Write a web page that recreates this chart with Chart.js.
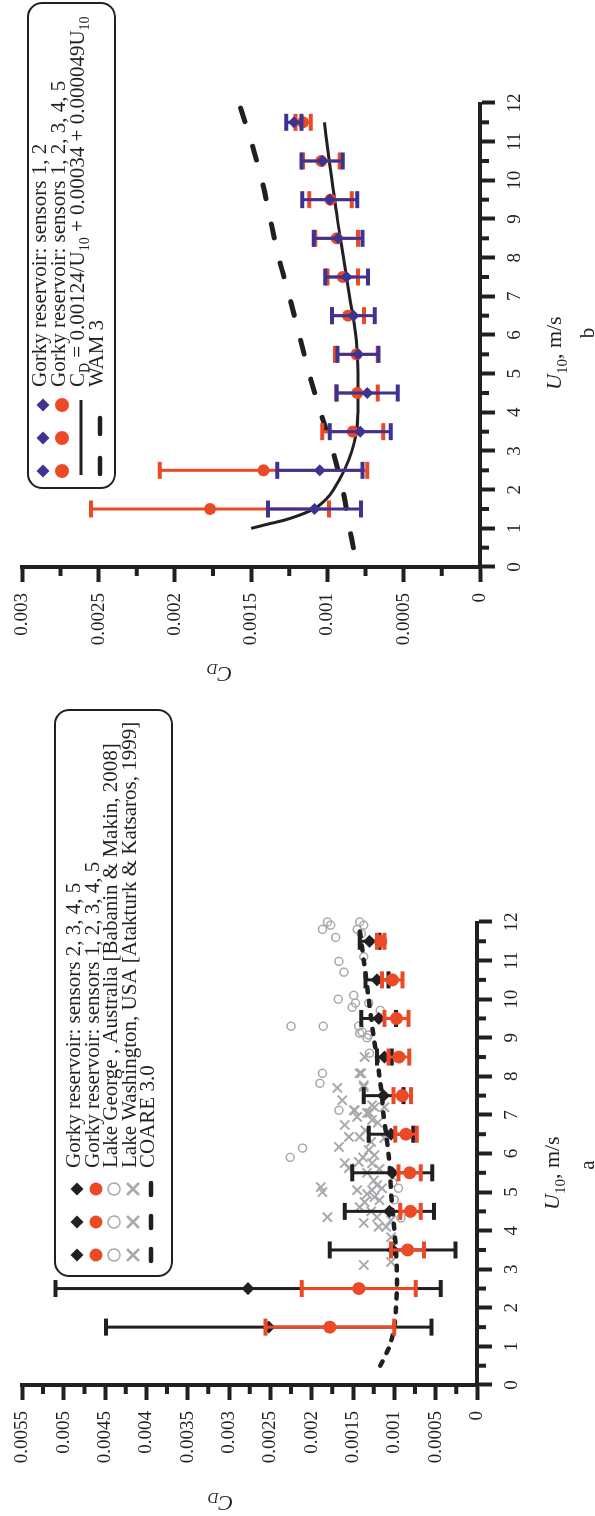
<!DOCTYPE html>
<html>
<head>
<meta charset="utf-8">
<script src="https://cdn.jsdelivr.net/npm/chart.js@4.4.1/dist/chart.umd.min.js"></script>
<style>
  html, body { margin: 0; padding: 0; background: #fff; }
  body { width: 595px; height: 1516px; overflow: hidden; position: relative; }
  /* the figure is laid out landscape and turned a quarter turn to the left */
  #figure { position: absolute; left: 0; top: 0; width: 1516px; height: 595px;
            transform-origin: 0 0; transform: translateY(1516px) rotate(-90deg); }
  #chartA { position: absolute; left: 0; top: 0; width: 816px; height: 595px; }
  #chartB { position: absolute; left: 816px; top: 0; width: 700px; height: 595px; }
</style>
</head>
<body>
<div id="figure">
  <canvas id="chartA" width="816" height="595"></canvas>
  <canvas id="chartB" width="700" height="595"></canvas>
</div>
<script>
// ---- data: panel a ----
const uBins = [1.5, 2.5, 3.5, 4.5, 5.5, 6.5, 7.5, 8.5, 9.5, 10.5, 11.5];

const gorky2345Cd  = [0.00252, 0.00277, 0.00102, 0.00106, 0.001025, 0.00104, 0.00113, 0.00112, 0.00119, 0.00121, 0.00130];
const gorky2345Err = [0.00197, 0.00233, 0.00076, 0.00054, 0.000485, 0.00027, 0.00024, 0.00009, 0.00021, 0.00014, 0.00012];

const gorky12345Cd  = [0.00178, 0.00143, 0.00084, 0.000805, 0.000815, 0.00086, 0.000905, 0.000945, 0.000975, 0.001025, 0.001165];
const gorky12345Err = [0.00078, 0.00069, 0.00020, 0.000125, 0.000135, 0.00013, 0.000105, 0.000125, 0.000145, 0.000125, 0.000045];

const lakeGeorgeU  = [12.0, 11.81, 11.92, 11.6, 12.0, 11.92, 11.81, 11.7, 11.1, 10.98, 10.7, 10.0, 10.1, 9.79, 9.9, 9.9,
                      9.3, 9.3, 9.3, 9.12, 9.07, 9.71, 9.15, 9.0, 8.6, 8.08, 7.82, 7.12, 6.14, 5.9, 5.1, 4.33, 4.8, 5.25];
const lakeGeorgeCd = [0.00181, 0.00187, 0.00177, 0.00171, 0.00142, 0.00137, 0.00145, 0.00140, 0.00137, 0.00167, 0.00161, 0.00168, 0.00149, 0.00151, 0.00147, 0.00131,
                      0.00225, 0.00186, 0.00143, 0.00142, 0.00131, 0.00117, 0.00139, 0.00133, 0.00130, 0.00187, 0.00190, 0.00167, 0.00211, 0.00226, 0.00095, 0.00092, 0.00100, 0.00102];

const lakeWashU  = [5.13, 5.0, 4.35, 6.17, 6.43, 6.74, 6.95, 7.12, 7.05, 7.2, 6.87, 6.43, 6.09, 5.96, 5.75, 5.62, 5.78, 5.75,
                    5.05, 5.05, 5.18, 5.1, 4.87, 4.74, 4.61, 4.79, 4.2, 4.1, 4.35, 4.1, 4.27, 3.83, 3.11, 3.19, 6.4, 7.2,
                    8.5, 8.08, 7.7, 7.38, 7.72, 7.12, 7.25, 7.05, 8.08, 7.77, 6.6, 6.3, 5.9, 5.5, 5.3, 4.95, 4.5, 6.8, 5.6];
const lakeWashCd = [0.00189, 0.00187, 0.00181, 0.00167, 0.00155, 0.00160, 0.00145, 0.00149, 0.00130, 0.00124, 0.00127, 0.00142, 0.00131, 0.00124, 0.00160, 0.00155, 0.00143, 0.00127,
                    0.00145, 0.00127, 0.00121, 0.00115, 0.00124, 0.00136, 0.00142, 0.00118, 0.00137, 0.00119, 0.00121, 0.00110, 0.00104, 0.00104, 0.00137, 0.00104, 0.00112, 0.00112,
                    0.00136, 0.00140, 0.00169, 0.00163, 0.00137, 0.00148, 0.00127, 0.00133, 0.00142, 0.00137, 0.00135, 0.00128, 0.00138, 0.00133, 0.00125, 0.00133, 0.00128, 0.00120, 0.00118];

const coareU  = [0.5, 1, 1.5, 2, 2.5, 3, 3.5, 4, 4.5, 5, 5.5, 6, 6.5, 7, 7.5, 8, 8.5, 9, 9.5, 10, 10.5, 11, 11.5, 11.8];
const coareCd = [0.00117, 0.00106, 0.00100, 0.00098, 0.00097, 0.00097, 0.00098, 0.00100, 0.00102, 0.00104, 0.00105, 0.00107,
                 0.00110, 0.00113, 0.00115, 0.00118, 0.00121, 0.00125, 0.00128, 0.00131, 0.00134, 0.00137, 0.00140, 0.00142];

// ---- data: panel b ----
const gorkyB12Cd  = [0.001085, 0.00105, 0.000785, 0.00074, 0.00080, 0.00083, 0.000875, 0.00093, 0.000985, 0.001035, 0.00122];
const gorkyB12Err = [0.000305, 0.00028, 0.00020, 0.00020, 0.000135, 0.00014, 0.00014, 0.00016, 0.00018, 0.000135, 0.00005];

const gorkyB12345Cd  = [0.00177, 0.00142, 0.000835, 0.000805, 0.00081, 0.000865, 0.0009, 0.00094, 0.00098, 0.00104, 0.00116];
const gorkyB12345Err = [0.00078, 0.00068, 0.00020, 0.000135, 0.00014, 0.000105, 0.0001, 0.00014, 0.00014, 0.00012, 0.00005];

const fitU  = [1.0, 1.1, 1.25, 1.5, 1.75, 2, 2.5, 3, 3.5, 4, 4.5, 5, 5.5, 6, 7, 8, 9, 10, 11, 11.5];
const fitCd = [0.00150, 0.00140, 0.00125, 0.00109, 0.00101, 0.00096, 0.00089, 0.00084, 0.00081, 0.00080, 0.00080, 0.00080,
               0.000805, 0.000815, 0.000855, 0.000895, 0.000935, 0.00097, 0.001005, 0.00102];

const wamU  = [0.5, 1, 2, 3, 4, 5, 6, 7, 8, 9, 10, 11, 12];
const wamCd = [0.00083, 0.000855, 0.00090, 0.000965, 0.001045, 0.00112, 0.001185, 0.00125, 0.00132, 0.001375, 0.00143, 0.00150, 0.00158];

const uTicks = [0, 1, 2, 3, 4, 5, 6, 7, 8, 9, 10, 11, 12];

const legendA = [
  'Gorky reservoir: sensors 2, 3, 4, 5',
  'Gorky reservoir: sensors 1, 2, 3, 4, 5',
  'Lake George , Australia [Babanin & Makin, 2008]',
  'Lake Washington, USA [Atakturk & Katsaros, 1999]',
  'COARE 3.0'
];
const legendB = [
  'Gorky reservoir: sensors 1, 2',
  'Gorky reservoir: sensors 1, 2, 3, 4, 5',
  'FORMULA',
  'WAM 3'
];

// ---- look ----
const INK = '#231f20';
const RED = '#ec4a26';
const BLUE = '#3d3393';
const GREY = '#a7a9ac';
const SERIF = '"Liberation Serif", "DejaVu Serif", serif';

const pts = (xs, ys) => xs.map((x, i) => ({ x: x, y: ys[i] }));
const fmtCd = v => (Math.abs(v) < 1e-9 ? '0' : String(parseFloat(v.toFixed(5))));

// error bars are drawn just before each dataset's own markers
const errorBars = {
  id: 'errorBars',
  beforeDatasetDraw(chart, args) {
    const ds = chart.data.datasets[args.index];
    if (!ds.errors) return;
    const xs = chart.scales.x, ys = chart.scales.y, ctx = chart.ctx;
    ctx.save();
    ctx.strokeStyle = ds.barColor;
    ds.data.forEach((p, i) => {
      const px = xs.getPixelForValue(p.x);
      const hi = ys.getPixelForValue(p.y + ds.errors[i]);
      const lo = ys.getPixelForValue(p.y - ds.errors[i]);
      ctx.lineWidth = 3;
      ctx.beginPath(); ctx.moveTo(px, hi); ctx.lineTo(px, lo); ctx.stroke();
      ctx.lineWidth = 4;
      ctx.beginPath();
      ctx.moveTo(px - 8.5, hi); ctx.lineTo(px + 8.5, hi);
      ctx.moveTo(px - 8.5, lo); ctx.lineTo(px + 8.5, lo);
      ctx.stroke();
    });
    ctx.restore();
  }
};

function drawSymbol(ctx, s, x, y) {
  ctx.save();
  ctx.fillStyle = s.color; ctx.strokeStyle = s.color;
  if (s.shape === 'diamond') {
    ctx.beginPath();
    ctx.moveTo(x - s.r, y); ctx.lineTo(x, y - s.r); ctx.lineTo(x + s.r, y); ctx.lineTo(x, y + s.r);
    ctx.closePath(); ctx.fill();
  } else if (s.shape === 'dot') {
    ctx.beginPath(); ctx.arc(x, y, s.r, 0, Math.PI * 2); ctx.fill();
  } else if (s.shape === 'ring') {
    ctx.lineWidth = 1.6;
    ctx.beginPath(); ctx.arc(x, y, s.r, 0, Math.PI * 2); ctx.stroke();
  } else if (s.shape === 'x') {
    ctx.lineWidth = 2.6;
    ctx.beginPath();
    ctx.moveTo(x - s.r, y - s.r); ctx.lineTo(x + s.r, y + s.r);
    ctx.moveTo(x - s.r, y + s.r); ctx.lineTo(x + s.r, y - s.r);
    ctx.stroke();
  } else if (s.shape === 'dash') {
    ctx.lineWidth = 4.5; ctx.lineCap = 'round';
    ctx.beginPath(); ctx.moveTo(x - s.r, y); ctx.lineTo(x + s.r, y); ctx.stroke();
  }
  ctx.restore();
}

// text made of runs: [text, style] where style is n, i, s (subscript) or is (italic subscript)
function drawRich(ctx, runs, x, y, size) {
  let cx = x;
  runs.forEach(([t, st]) => {
    const sub = st === 's' || st === 'is';
    const ital = st === 'i' || st === 'is';
    const fs = sub ? Math.round(size * 0.66) : size;
    ctx.font = (ital ? 'italic ' : '') + fs + 'px ' + SERIF;
    ctx.fillText(t, cx, sub ? y + size * 0.25 : y);
    cx += ctx.measureText(t).width;
  });
  return cx - x;
}

function roundBox(ctx, x0, y0, x1, y1, r) {
  ctx.save();
  ctx.strokeStyle = INK; ctx.lineWidth = 2;
  ctx.beginPath();
  ctx.moveTo(x0 + r, y0); ctx.lineTo(x1 - r, y0); ctx.arcTo(x1, y0, x1, y0 + r, r);
  ctx.lineTo(x1, y1 - r); ctx.arcTo(x1, y1, x1 - r, y1, r);
  ctx.lineTo(x0 + r, y1); ctx.arcTo(x0, y1, x0, y1 - r, r);
  ctx.lineTo(x0, y0 + r); ctx.arcTo(x0, y0, x0 + r, y0, r);
  ctx.stroke();
  ctx.restore();
}

function minorTicks(chart, cdStep) {
  const { ctx, chartArea: a, scales: { x, y } } = chart;
  ctx.save();
  ctx.strokeStyle = INK; ctx.lineWidth = 4;
  ctx.beginPath();
  for (let v = 0.5; v < x.max; v += 1) {
    const px = x.getPixelForValue(v);
    ctx.moveTo(px, a.bottom); ctx.lineTo(px, a.bottom + 9);
  }
  for (let v = cdStep / 2; v < y.max; v += cdStep) {
    const py = y.getPixelForValue(v);
    ctx.moveTo(a.left, py); ctx.lineTo(a.left - 9, py);
  }
  ctx.stroke();
  ctx.restore();
}

function axisTitles(ctx, ux, uy, letter, lx, ly, cdx, cdy) {
  ctx.save();
  ctx.fillStyle = INK; ctx.textAlign = 'left'; ctx.textBaseline = 'alphabetic';
  drawRich(ctx, [['U', 'i'], ['10', 's'], [', m/s', 'n']], ux, uy, 22);
  ctx.font = '21px ' + SERIF; ctx.textAlign = 'center';
  ctx.fillText(letter, lx, ly);
  ctx.translate(cdx, cdy); ctx.rotate(-Math.PI / 2);
  ctx.textAlign = 'left'; ctx.textBaseline = 'middle';
  ctx.font = 'italic 22px ' + SERIF;
  const w = ctx.measureText('C').width + 10;
  drawRich(ctx, [['C', 'i'], ['D', 'is']], -w / 2, 0, 22);
  ctx.restore();
}

function scalesFor(cdMax, yWidth, xHeight) {
  const tickFont = { family: 'Liberation Serif', size: 19 };
  const grid = { drawOnChartArea: false, tickLength: 15, tickWidth: 4, tickColor: INK };
  const border = { display: true, width: 4, color: INK };
  return {
    x: {
      type: 'linear', min: 0, max: 12,
      afterFit: s => { s.height = xHeight; },
      afterBuildTicks: s => { s.ticks = uTicks.map(v => ({ value: v })); },
      ticks: { font: tickFont, color: INK, padding: 9, maxRotation: 0, autoSkip: false },
      grid: grid, border: border
    },
    y: {
      type: 'linear', min: 0, max: cdMax,
      afterFit: s => { s.width = yWidth; },
      ticks: { stepSize: 0.0005, font: tickFont, color: INK, padding: 11, callback: v => fmtCd(v) },
      grid: grid, border: border
    }
  };
}

Chart.defaults.font.family = 'Liberation Serif';

// ---- panel a ----
const decorA = {
  id: 'decorA',
  afterDraw(chart) {
    const ctx = chart.ctx;
    minorTicks(chart, 0.0005);
    axisTitles(ctx, 306, 559, 'a', 351, 594, 14, 221);
    roundBox(ctx, 240, 55, 806, 172, 14);
    const syms = [
      { shape: 'diamond', color: INK, r: 6.5 },
      { shape: 'dot', color: RED, r: 6.5 },
      { shape: 'ring', color: GREY, r: 6 },
      { shape: 'x', color: GREY, r: 6 },
      { shape: 'dash', color: INK, r: 6 }
    ];
    const rowsY = [77, 96, 114, 133, 151];
    ctx.save();
    ctx.fillStyle = INK; ctx.textAlign = 'left'; ctx.textBaseline = 'alphabetic';
    rowsY.forEach((ry, i) => {
      [261, 294, 327].forEach(cx => drawSymbol(ctx, syms[i], cx, ry));
      ctx.font = '21px ' + SERIF;
      ctx.fillText(legendA[i], 348, ry + 3);
    });
    ctx.restore();
  }
};

new Chart(document.getElementById('chartA'), {
  type: 'scatter',
  data: {
    datasets: [
      { label: legendA[1], data: pts(uBins, gorky12345Cd), errors: gorky12345Err, barColor: RED,
        pointStyle: 'circle', pointRadius: 6.5, backgroundColor: RED, borderColor: RED, borderWidth: 0, order: 1, clip: false },
      { label: legendA[0], data: pts(uBins, gorky2345Cd), errors: gorky2345Err, barColor: INK,
        pointStyle: 'rectRot', pointRadius: 6.5, backgroundColor: INK, borderColor: INK, borderWidth: 0, order: 2, clip: false },
      { label: legendA[4], data: pts(coareU, coareCd), showLine: true, pointRadius: 0, borderColor: INK,
        borderWidth: 4.5, borderDash: [5, 9], borderCapStyle: 'round', tension: 0.3, order: 3, clip: false },
      { label: legendA[2], data: pts(lakeGeorgeU, lakeGeorgeCd), pointStyle: 'circle', pointRadius: 4,
        backgroundColor: 'rgba(0,0,0,0)', borderColor: GREY, borderWidth: 1.5, order: 4, clip: false },
      { label: legendA[3], data: pts(lakeWashU, lakeWashCd), pointStyle: 'crossRot', pointRadius: 6.5,
        borderColor: GREY, borderWidth: 2, order: 5, clip: false }
    ]
  },
  options: {
    responsive: false,
    animation: false,
    devicePixelRatio: 1,
    layout: { padding: { left: 0, top: 15, right: 222, bottom: 0 } },
    scales: scalesFor(0.0055, 131, 118),
    plugins: { legend: { display: false }, tooltip: { enabled: false } }
  },
  plugins: [errorBars, decorA]
});

// ---- panel b ----
const decorB = {
  id: 'decorB',
  afterDraw(chart) {
    const ctx = chart.ctx;
    minorTicks(chart, 0.0005);
    axisTitles(ctx, 310, 561, 'b', 367, 594, 27, 220);
    roundBox(ctx, 212, 28, 697, 115, 14);
    const rowsY = [43, 62, 81, 100];
    ctx.save();
    [229, 262, 295].forEach(cx => {
      drawSymbol(ctx, { shape: 'diamond', color: BLUE, r: 6.5 }, cx, rowsY[0]);
      drawSymbol(ctx, { shape: 'dot', color: RED, r: 7 }, cx, rowsY[1]);
    });
    ctx.strokeStyle = INK; ctx.lineWidth = 3;
    ctx.beginPath(); ctx.moveTo(225, rowsY[2]); ctx.lineTo(300, rowsY[2]); ctx.stroke();
    [234, 274].forEach(cx => drawSymbol(ctx, { shape: 'dash', color: INK, r: 8 }, cx, rowsY[3]));
    ctx.fillStyle = INK; ctx.textAlign = 'left'; ctx.textBaseline = 'alphabetic';
    rowsY.forEach((ry, i) => {
      if (legendB[i] === 'FORMULA') {
        drawRich(ctx, [['C', 'n'], ['D', 's'], [' = 0.00124/U', 'n'], ['10', 's'],
                       [' + 0.00034 + 0.000049U', 'n'], ['10', 's']], 313, ry + 3, 21);
      } else {
        ctx.font = '21px ' + SERIF;
        ctx.fillText(legendB[i], 313, ry + 3);
      }
    });
    ctx.restore();
  }
};

new Chart(document.getElementById('chartB'), {
  type: 'scatter',
  data: {
    datasets: [
      { label: legendB[0], data: pts(uBins, gorkyB12Cd), errors: gorkyB12Err, barColor: BLUE,
        pointStyle: 'rectRot', pointRadius: 6, backgroundColor: BLUE, borderColor: BLUE, borderWidth: 0, order: 1, clip: false },
      { label: legendB[1], data: pts(uBins, gorkyB12345Cd), errors: gorkyB12345Err, barColor: RED,
        pointStyle: 'circle', pointRadius: 6, backgroundColor: RED, borderColor: RED, borderWidth: 0, order: 2, clip: false },
      { label: 'fit', data: pts(fitU, fitCd), showLine: true, pointRadius: 0, borderColor: INK,
        borderWidth: 3, tension: 0.4, order: 3, clip: false },
      { label: legendB[3], data: pts(wamU, wamCd), showLine: true, pointRadius: 0, borderColor: INK,
        borderWidth: 5, borderDash: [14, 26], borderCapStyle: 'round', tension: 0.3, order: 4, clip: false }
    ]
  },
  options: {
    responsive: false,
    animation: false,
    devicePixelRatio: 1,
    layout: { padding: { left: 0, top: 18, right: 103, bottom: 0 } },
    scales: scalesFor(0.003, 133, 115),
    plugins: { legend: { display: false }, tooltip: { enabled: false } }
  },
  plugins: [errorBars, decorB]
});
</script>
</body>
</html>
